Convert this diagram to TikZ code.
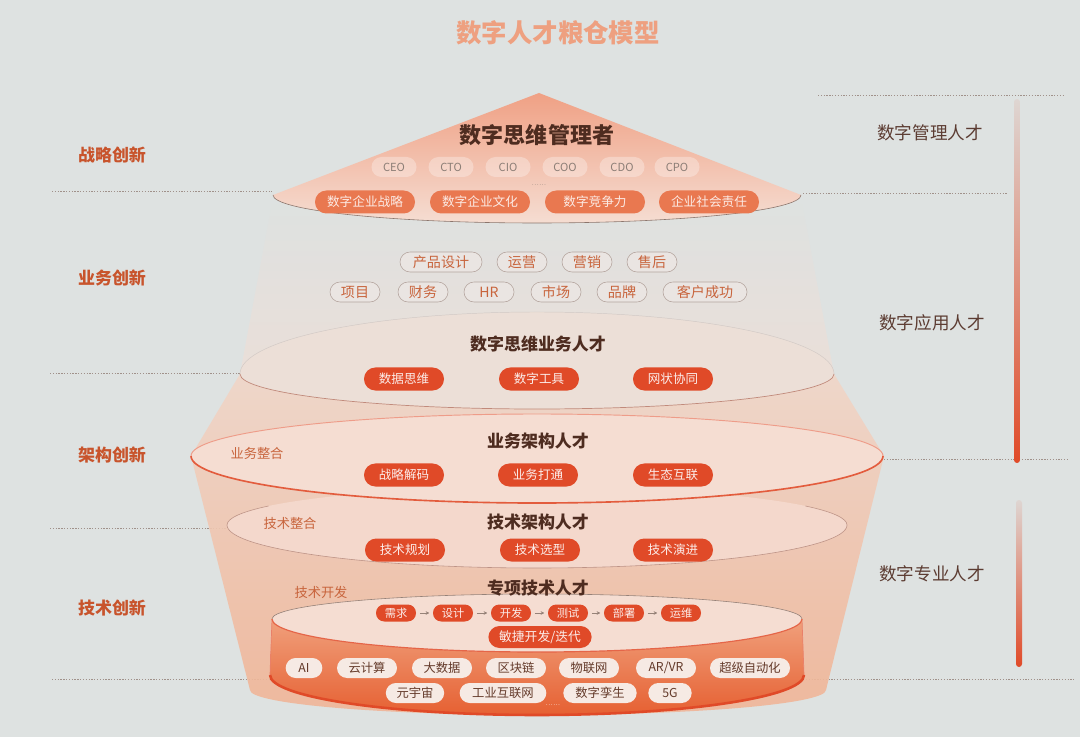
\documentclass[tikz,border=0pt]{standalone}
\usepackage{fontspec}
\newfontfamily\cjk{Noto Sans CJK SC}
\usetikzlibrary{arrows.meta}
\definecolor{bg}{RGB}{222,226,225}
\definecolor{leftc}{RGB}{200,84,44}
\definecolor{rightc}{RGB}{92,60,50}
\definecolor{headc}{RGB}{78,44,32}
\definecolor{titlec}{RGB}{238,160,128}
\definecolor{redc}{RGB}{224,74,40}
\definecolor{topc}{RGB}{233,120,80}
\definecolor{olc}{RGB}{180,165,158}
\definecolor{olfill}{RGB}{234,229,226}
\definecolor{olt}{RGB}{200,100,60}
\definecolor{tagfill}{RGB}{246,234,228}
\definecolor{tagt}{RGB}{100,58,42}
\definecolor{dotc}{RGB}{160,145,138}
\definecolor{ceot}{RGB}{140,126,118}
\definecolor{arrc}{RGB}{150,130,120}
\definecolor{paleA}{RGB}{245,221,210}
\definecolor{paleB}{RGB}{244,216,204}
\definecolor{envA}{RGB}{240,214,200}
\definecolor{envB}{RGB}{242,196,174}
\definecolor{envC}{RGB}{240,180,150}
\definecolor{cylA}{RGB}{240,160,124}
\definecolor{cylB}{RGB}{230,96,50}
\begin{document}
\begin{tikzpicture}[x=0.03cm,y=-0.03cm,font=\cjk,
  dotline/.style={dotc,line width=0.6pt,dash pattern=on 1.1pt off 1.3pt},
  lefttxt/.style={text=leftc,font=\cjk\bfseries\fontsize{14.5}{16}\selectfont},
  righttxt/.style={text=rightc,font=\cjk\fontsize{15}{17}\selectfont},
  headtxt/.style={text=headc,font=\cjk\bfseries\fontsize{14.5}{16}\selectfont},
  sidetxt/.style={text=olt,font=\cjk\fontsize{11.3}{13}\selectfont},
  redpill/.style={fill=redc,text=white!90!redc,minimum width=2.4cm,minimum height=0.69cm,rounded corners=0.34cm,inner sep=0pt,font=\cjk\fontsize{10.7}{12}\selectfont},
  toppill/.style={fill=topc,text=white!85!topc,minimum width=3.0cm,minimum height=0.69cm,rounded corners=0.34cm,inner sep=0pt,font=\cjk\fontsize{10.8}{12}\selectfont},
  outpill/.style={draw=olc,line width=0.5pt,fill=olfill,text=olt,minimum width=1.5cm,minimum height=0.6cm,rounded corners=0.3cm,inner sep=0pt,font=\cjk\fontsize{12}{13}\selectfont},
  procpill/.style={fill=redc,text=white!90!redc,minimum width=1.2cm,minimum height=0.51cm,rounded corners=0.25cm,inner sep=0pt,font=\cjk\fontsize{9.6}{11}\selectfont},
  techtag/.style={fill=tagfill,text=tagt,minimum width=1.8cm,minimum height=0.6cm,rounded corners=0.3cm,inner sep=0pt,font=\cjk\fontsize{10.5}{12}\selectfont},
  ceopill/.style={fill=white,fill opacity=0.3,text opacity=1,text=ceot,minimum width=1.35cm,minimum height=0.6cm,rounded corners=0.3cm,inner sep=0pt,font=\cjk\fontsize{9.5}{11}\selectfont},
  procarrow/.style={arrc,line width=0.6pt,-{Stealth[length=3pt,width=3pt]},shorten <=3pt,shorten >=3pt}
]
\fill[bg] (0,0) rectangle (1080,737);
\useasboundingbox (0,0) rectangle (1080,737);

% title
\node[text=titlec,font=\cjk\bfseries\fontsize{21.7}{24}\selectfont] (title) at (558,33) {数字人才粮仓模型};

% dotted guide lines
\draw[dotline] (52,191) -- (272,191);
\draw[dotline] (50,373) -- (240,373);
\draw[dotline] (50,528) -- (227,528);
\draw[dotline] (52,679) -- (270,679);
\draw[dotline] (818,95) -- (1063,95);
\draw[dotline] (803,193) -- (1007,193);
\draw[dotline] (884,459) -- (1068,459);
\draw[dotline] (806,679) -- (1075,679);

% left labels
\node[lefttxt] (l1) at (112,155) {战略创新};
\node[lefttxt] (l2) at (112,278) {业务创新};
\node[lefttxt] (l3) at (112,455) {架构创新};
\node[lefttxt] (l4) at (112,608) {技术创新};

% right labels
\node[righttxt] (r1) at (930,133) {数字管理人才};
\node[righttxt] (r2) at (932,323) {数字应用人才};
\node[righttxt] (r3) at (932,574) {数字专业人才};

% right gradient bars
\shade[top color=bg!92!redc,bottom color=redc,rounded corners=0.09cm] (1014,99) rectangle (1020,463);
\shade[top color=bg!92!redc,bottom color=redc,rounded corners=0.09cm] (1016,500) rectangle (1022,667);

% pale upper region (business)
\shade[top color=bg,bottom color=paleA,fill opacity=0.55]
  (273,198) -- (240,374) arc[start angle=180,end angle=0,x radius=8.91cm,y radius=1.86cm] -- (801,198) -- cycle;

% envelope double cone
\shade[top color=envA,middle color=envB,bottom color=envC,fill opacity=0.9]
  (240,374) arc[start angle=180,end angle=360,x radius=8.91cm,y radius=1.05cm]
  -- (884,456) -- (826,690)
  arc[start angle=0,end angle=-180,x radius=8.64cm,y radius=0.75cm]
  -- (191,456) -- cycle;

% business ellipse
\fill[paleA!70!bg,fill opacity=0.9] (240,374) arc[start angle=180,end angle=0,x radius=8.91cm,y radius=1.86cm]
  arc[start angle=0,end angle=-180,x radius=8.91cm,y radius=1.05cm];
\draw[olc!60!white,line width=0.4pt] (240,374) arc[start angle=180,end angle=0,x radius=8.91cm,y radius=1.86cm];
\draw[olc!70!redc,line width=0.6pt] (240,374) arc[start angle=180,end angle=360,x radius=8.91cm,y radius=1.05cm];

% tech architecture ellipse
\fill[paleB] (227,525) arc[start angle=180,end angle=0,x radius=9.3cm,y radius=1.14cm]
  arc[start angle=0,end angle=-180,x radius=9.3cm,y radius=1.29cm];
\draw[olc!80!redc,line width=0.5pt] (227,525) arc[start angle=180,end angle=360,x radius=9.3cm,y radius=1.29cm];
\draw[olc!80!redc,line width=0.5pt] (227,525) arc[start angle=180,end angle=150,x radius=9.3cm,y radius=1.14cm];
\draw[olc!80!redc,line width=0.5pt] (847,525) arc[start angle=0,end angle=30,x radius=9.3cm,y radius=1.14cm];

% business architecture ellipse
\fill[paleA] (191,456) arc[start angle=180,end angle=0,x radius=10.38cm,y radius=1.26cm]
  arc[start angle=0,end angle=-180,x radius=10.38cm,y radius=1.41cm];
\draw[redc!55!white,line width=0.8pt] (191,456) arc[start angle=180,end angle=0,x radius=10.38cm,y radius=1.26cm];
\draw[redc!90!white,line width=1.4pt] (191,456) arc[start angle=180,end angle=360,x radius=10.38cm,y radius=1.41cm];

% cylinder front face
\shade[top color=cylA,bottom color=cylB]
  (272,619) -- (270,675) arc[start angle=180,end angle=360,x radius=8.01cm,y radius=1.2cm]
  -- (802,619) arc[start angle=0,end angle=-180,x radius=7.95cm,y radius=0.99cm] -- cycle;
\draw[redc,line width=2.2pt] (270,675) arc[start angle=180,end angle=360,x radius=8.01cm,y radius=1.2cm];
\draw[redc!70!white,line width=0.6pt] (272,619) -- (270,675);
\draw[redc!70!white,line width=0.6pt] (802,619) -- (804,675);

% special tech ellipse (cylinder top)
\fill[paleA] (272,619) arc[start angle=180,end angle=0,x radius=7.95cm,y radius=0.75cm]
  arc[start angle=0,end angle=-180,x radius=7.95cm,y radius=0.99cm];
\draw[olc!70!headc,line width=0.5pt] (272,619) arc[start angle=180,end angle=0,x radius=7.95cm,y radius=0.75cm];
\draw[redc!85!white,line width=1pt] (272,619) arc[start angle=180,end angle=360,x radius=7.95cm,y radius=0.99cm];

% top cone
\shade[top color=topc!70!white,bottom color=paleA]
  (539,93) -- (273,195) arc[start angle=180,end angle=360,x radius=7.92cm,y radius=0.84cm] -- cycle;
\draw[olc!60!headc,line width=0.5pt] (273,195) arc[start angle=180,end angle=360,x radius=7.92cm,y radius=0.84cm];

% ---- top level texts
\node[text=headc,font=\cjk\bfseries\fontsize{18.8}{21}\selectfont] (mgr) at (537,135) {数字思维管理者};
\node[ceopill] (ceo) at (394,167) {CEO};
\node[ceopill] (cto) at (451,167) {CTO};
\node[ceopill] (cio) at (508,167) {CIO};
\node[ceopill] (coo) at (565,167) {COO};
\node[ceopill] (cdo) at (622,167) {CDO};
\node[ceopill] (cpo) at (677,167) {CPO};
\node[text=ceot,font=\fontsize{6}{7}\selectfont] (dots1) at (539,185) {......};
\node[toppill] (tp1) at (365,202) {数字企业战略};
\node[toppill] (tp2) at (480,202) {数字企业文化};
\node[toppill] (tp3) at (595,202) {数字竞争力};
\node[toppill] (tp4) at (709,202) {企业社会责任};

% ---- business level
\node[outpill,minimum width=2.46cm] (b1) at (441,262) {产品设计};
\node[outpill] (b2) at (522,262) {运营};
\node[outpill] (b3) at (587,262) {营销};
\node[outpill] (b4) at (652,262) {售后};
\node[outpill] (b5) at (355,292) {项目};
\node[outpill] (b6) at (423,292) {财务};
\node[outpill] (b7) at (489,292) {HR};
\node[outpill] (b8) at (556,292) {市场};
\node[outpill] (b9) at (622,292) {品牌};
\node[outpill,minimum width=2.52cm] (b10) at (705,292) {客户成功};
\node[headtxt] (bizh) at (538,344) {数字思维业务人才};
\node[redpill] (bz1) at (404,379) {数据思维};
\node[redpill] (bz2) at (539,379) {数字工具};
\node[redpill] (bz3) at (673,379) {网状协同};

% ---- business architecture
\node[sidetxt] (s1) at (257,453) {业务整合};
\node[headtxt] (bah) at (538,441) {业务架构人才};
\node[redpill] (ba1) at (404,475) {战略解码};
\node[redpill] (ba2) at (538,475) {业务打通};
\node[redpill] (ba3) at (673,475) {生态互联};

% ---- tech architecture
\node[sidetxt] (s2) at (290,523) {技术整合};
\node[headtxt] (tah) at (538,522) {技术架构人才};
\node[redpill] (ta1) at (405,550) {技术规划};
\node[redpill] (ta2) at (540,550) {技术选型};
\node[redpill] (ta3) at (673,550) {技术演进};

% ---- special tech
\node[sidetxt] (s3) at (321,592) {技术开发};
\node[headtxt] (sth) at (538,588) {专项技术人才};
\node[procpill] (pr1) at (396,613) {需求};
\node[procpill] (pr2) at (453,613) {设计};
\node[procpill] (pr3) at (511,613) {开发};
\node[procpill] (pr4) at (568,613) {测试};
\node[procpill] (pr5) at (624,613) {部署};
\node[procpill] (pr6) at (681,613) {运维};
\draw[procarrow] (pr1) -- (pr2);
\draw[procarrow] (pr2) -- (pr3);
\draw[procarrow] (pr3) -- (pr4);
\draw[procarrow] (pr4) -- (pr5);
\draw[procarrow] (pr5) -- (pr6);
\node[redpill,minimum width=3.1cm,minimum height=0.66cm,font=\cjk\fontsize{10.9}{12}\selectfont] (agile) at (540,637) {敏捷开发/迭代};

% ---- tech tags
\node[techtag,minimum width=1.1cm] (g1) at (304,668) {AI};
\node[techtag] (g2) at (367,668) {云计算};
\node[techtag] (g3) at (442,668) {大数据};
\node[techtag] (g4) at (516,668) {区块链};
\node[techtag] (g5) at (589,668) {物联网};
\node[techtag] (g6) at (666,668) {AR/VR};
\node[techtag,minimum width=2.4cm] (g7) at (750,668) {超级自动化};
\node[techtag,minimum width=1.75cm] (g8) at (415,693) {元宇宙};
\node[techtag,minimum width=2.6cm] (g9) at (503,693) {工业互联网};
\node[techtag,minimum width=2.2cm] (g10) at (600,693) {数字孪生};
\node[techtag,minimum width=1.3cm] (g11) at (670,693) {5G};
\node[text=white,font=\fontsize{6}{7}\selectfont] (dots2) at (553,705) {......};
\end{tikzpicture}
\end{document}
